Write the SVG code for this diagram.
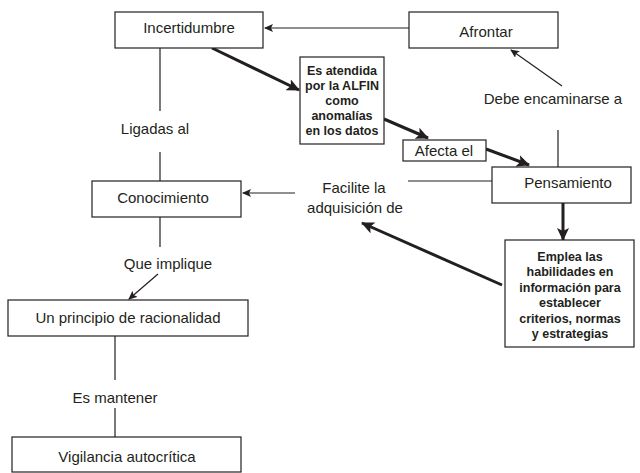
<svg xmlns="http://www.w3.org/2000/svg" width="640" height="473" viewBox="0 0 640 473">
<style>
.box{fill:#fff;stroke:#231f20;stroke-width:1.2}
.t{font-family:"Liberation Sans",Arial,sans-serif;font-size:15px;fill:#231f20;text-anchor:middle}
.b{font-family:"Liberation Sans",Arial,sans-serif;font-size:12.5px;font-weight:bold;fill:#231f20;text-anchor:middle}
.thin{stroke:#231f20;stroke-width:1.2;fill:none}
.thick{stroke:#231f20;stroke-width:3;fill:none}
</style>
<defs>
<marker id="ah" markerUnits="userSpaceOnUse" markerWidth="10" markerHeight="8" refX="8" refY="4" orient="auto">
<path d="M0,0 L9,4 L0,8 L2,4 Z" fill="#231f20"/>
</marker>
<marker id="ahb" markerUnits="userSpaceOnUse" markerWidth="14" markerHeight="12" refX="12" refY="6" orient="auto">
<path d="M0,0 L13,6 L0,12 L3,6 Z" fill="#231f20"/>
</marker>
</defs>
<g id="connectors">
<line class="thin" x1="409" y1="28" x2="265" y2="28" marker-end="url(#ah)"/>
<line class="thick" x1="212" y1="48" x2="299" y2="90" marker-end="url(#ahb)"/>
<line class="thick" x1="384" y1="119" x2="428" y2="138" marker-end="url(#ahb)"/>
<line class="thick" x1="486" y1="149" x2="529" y2="165" marker-end="url(#ahb)"/>
<line class="thick" x1="563" y1="203" x2="563" y2="240" marker-end="url(#ahb)"/>
<line class="thick" x1="502" y1="285" x2="362" y2="223" marker-end="url(#ahb)"/>
<line class="thin" x1="558" y1="167" x2="558" y2="130"/>
<line class="thin" x1="562" y1="86" x2="511" y2="50" marker-end="url(#ah)"/>
<line class="thin" x1="492" y1="181" x2="408" y2="181"/>
<line class="thin" x1="295" y1="193" x2="243" y2="193" marker-end="url(#ah)"/>
<line class="thin" x1="160" y1="48" x2="160" y2="111"/>
<line class="thin" x1="160" y1="152" x2="160" y2="181"/>
<line class="thin" x1="160" y1="217" x2="160" y2="247"/>
<line class="thin" x1="158" y1="274" x2="129" y2="299" marker-end="url(#ah)"/>
<line class="thin" x1="115" y1="336" x2="115" y2="380"/>
<line class="thin" x1="115" y1="408" x2="115" y2="437"/>
</g>
<g id="incertidumbre"><rect class="box" x="115" y="12" width="148" height="36"/><text class="t" x="189" y="33">Incertidumbre</text></g>
<g id="afrontar"><rect class="box" x="409" y="12" width="149" height="36"/><text class="t" x="486" y="37">Afrontar</text></g>
<g id="alfin"><rect class="box" x="300" y="57" width="84" height="87"/>
<text class="b" x="342" y="75">Es atendida</text>
<text class="b" x="342" y="90">por la ALFIN</text>
<text class="b" x="342" y="105">como</text>
<text class="b" x="342" y="120">anomalías</text>
<text class="b" x="342" y="135">en los datos</text></g>
<g id="afecta"><rect class="box" x="403" y="140" width="83" height="21"/><text class="t" x="444" y="156">Afecta el</text></g>
<g id="pensamiento"><rect class="box" x="492" y="167" width="139" height="36"/><text class="t" x="568" y="188">Pensamiento</text></g>
<g id="emplea"><rect class="box" x="505" y="240" width="129" height="107"/>
<text class="b" x="570" y="261">Emplea las</text>
<text class="b" x="570" y="276">habilidades en</text>
<text class="b" x="570" y="292">información para</text>
<text class="b" x="570" y="307">establecer</text>
<text class="b" x="570" y="323">criterios, normas</text>
<text class="b" x="570" y="338">y estrategias</text></g>
<g id="conocimiento"><rect class="box" x="92" y="181" width="149" height="36"/><text class="t" x="163" y="203">Conocimiento</text></g>
<g id="principio"><rect class="box" x="8" y="300" width="240" height="36"/><text class="t" x="128" y="323">Un principio de racionalidad</text></g>
<g id="vigilancia"><rect class="box" x="12" y="437" width="229" height="35"/><text class="t" x="127" y="462">Vigilancia autocrítica</text></g>
<g id="labels">
<text class="t" x="155" y="134">Ligadas al</text>
<text class="t" x="553" y="104">Debe encaminarse a</text>
<text class="t" x="354" y="193">Facilite la</text>
<text class="t" x="355" y="213">adquisición de</text>
<text class="t" x="168" y="269">Que implique</text>
<text class="t" x="115" y="403">Es mantener</text>
</g>
</svg>
